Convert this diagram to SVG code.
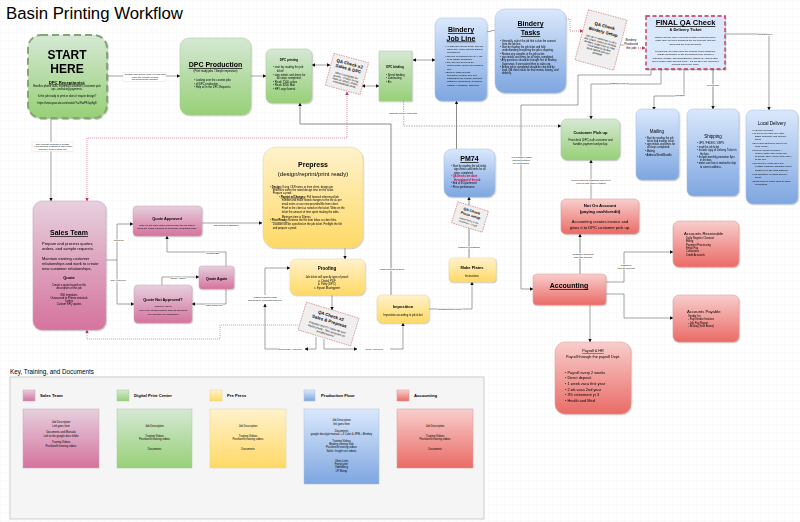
<svg xmlns="http://www.w3.org/2000/svg" width="800" height="522" viewBox="0 0 800 522">
<defs>
<pattern id="grid" width="8" height="8" patternUnits="userSpaceOnUse"><path d="M8 0H0V8" fill="none" stroke="#efefef" stroke-width="0.5"/></pattern>
<linearGradient id="gG" x1="0" y1="0" x2="0" y2="1"><stop offset="0" stop-color="#d5e8d4"/><stop offset="1" stop-color="#97d077"/></linearGradient>
<linearGradient id="gB" x1="0" y1="0" x2="0" y2="1"><stop offset="0" stop-color="#dae8fc"/><stop offset="1" stop-color="#7ea6e0"/></linearGradient>
<linearGradient id="gR" x1="0" y1="0" x2="0" y2="1"><stop offset="0" stop-color="#f8cecc"/><stop offset="1" stop-color="#ea6b66"/></linearGradient>
<linearGradient id="gY" x1="0" y1="0" x2="0" y2="1"><stop offset="0" stop-color="#fff2cc"/><stop offset="1" stop-color="#ffd966"/></linearGradient>
<linearGradient id="gP" x1="0" y1="0" x2="0" y2="1"><stop offset="0" stop-color="#e6d0de"/><stop offset="1" stop-color="#d5739d"/></linearGradient>
<filter id="sh" x="-10%" y="-10%" width="120%" height="120%"><feDropShadow dx="0.6" dy="0.8" stdDeviation="0.6" flood-color="#000" flood-opacity="0.3"/></filter>
<marker id="a" viewBox="0 0 10 10" refX="9" refY="5" markerWidth="3.6" markerHeight="3.6" markerUnits="userSpaceOnUse" orient="auto-start-reverse"><path d="M0 0L10 5L0 10z" fill="#111"/></marker>
<marker id="r" viewBox="0 0 10 10" refX="9" refY="5" markerWidth="3.6" markerHeight="3.6" markerUnits="userSpaceOnUse" orient="auto-start-reverse"><path d="M0 0L10 5L0 10z" fill="#c2304f"/></marker>
</defs>
<style>
text{font-family:"Liberation Sans",Arial,sans-serif;fill:#000}
.n{filter:url(#sh)}
.g{fill:url(#gG);stroke:#a9c99f;stroke-width:.5}
.b{fill:url(#gB);stroke:#a9bfdd;stroke-width:.5}
.r{fill:url(#gR);stroke:#d99;stroke-width:.5}
.y{fill:url(#gY);stroke:#e8d48f;stroke-width:.5}
.p{fill:url(#gP);stroke:#c9a3b6;stroke-width:.5}
.q{fill:#f0eeee;stroke:#b85450;stroke-width:.5;stroke-dasharray:1.5 1}
.c{text-anchor:middle}
.s{font-size:2.7px}
.t{font-weight:bold;text-decoration:underline;text-anchor:middle}
.h{font-weight:bold;text-anchor:middle}
.m{font-size:4.2px}
.l{fill:none;stroke:#666;stroke-width:.6;marker-end:url(#a)}
.w{fill:none;stroke:#8a8a8a;stroke-width:1;marker-end:url(#a)}
.d{fill:none;stroke:#777;stroke-width:.6;stroke-dasharray:1.5 1;marker-end:url(#a)}
.e{fill:none;stroke:#c2506a;stroke-width:.6;stroke-dasharray:1 1}
.lb{font-size:2.5px;text-anchor:middle;paint-order:stroke;stroke:#fff;stroke-width:1px}
.bx{fill:#fff;stroke:#ccc;stroke-width:.3}
.ks{font-size:4.2px;font-weight:bold}
</style>
<rect width="800" height="522" fill="#fff"/>
<rect width="800" height="522" fill="url(#grid)"/>
<text x="6" y="19" font-size="16.800">Basin Printing Workflow</text>

<g id="key">
<text x="10" y="374" font-size="6.300">Key, Training, and Documents</text>
<rect x="10" y="377" width="474" height="142" fill="#f5f5f5" stroke="#bbb" stroke-width=".7"/>
<rect x="23" y="390" width="12" height="11" class="p"/><text x="40" y="396.500" class="ks">Sales Team</text>
<rect x="117" y="390" width="12" height="11" class="g"/><text x="134" y="396.500" class="ks">Digital Print Center</text>
<rect x="210" y="390" width="12" height="11" class="y"/><text x="227" y="396.500" class="ks">Pre Press</text>
<rect x="304" y="390" width="11" height="11" class="b"/><text x="321" y="396.500" class="ks">Production Floor</text>
<rect x="397" y="390" width="12" height="11" class="r"/><text x="414" y="396.500" class="ks">Accounting</text>
<rect x="23" y="409" width="76" height="59" class="p"/>
<rect x="117" y="409" width="75" height="59" class="g"/>
<rect x="210" y="409" width="76" height="59" class="y"/>
<rect x="304" y="409" width="75" height="75" class="b"/>
<rect x="397" y="409" width="76" height="59" class="r"/>
<g class="s c">
<text x="61" y="423.300">Job Description</text><text x="61" y="426.700">Link goes here</text><text x="61" y="433.300">Documents and Manuals</text><text x="61" y="436.700">Link to the google docs folder</text><text x="61" y="443.300">Training Videos</text><text x="61" y="446.700">Postilion/lit training videos</text>
<text x="154.500" y="426.700">Job Description</text><text x="154.500" y="436.700">Training Videos</text><text x="154.500" y="440">Postilion/lit training videos</text><text x="154.500" y="450">Documents</text>
<text x="248" y="426.700">Job Description</text><text x="248" y="436.700">Training Videos</text><text x="248" y="440">Postilion/lit training videos</text><text x="248" y="450">Documents</text>
<text x="341.500" y="421.300">Job Description</text><text x="341.500" y="424.700">link goes here</text><text x="341.500" y="431.700">Documents</text><text x="341.500" y="435">google docs/ppt manual + 4 Color &amp; 4PM + Bindery</text><text x="341.500" y="441.700">Training Videos</text><text x="341.500" y="445">Bindery training Vids</text><text x="341.500" y="448.300">Postilion/lit training videos</text><text x="341.500" y="451.700">Sales: Insight cert videos</text><text x="341.500" y="461.700">Other Links</text><text x="341.500" y="465">Fiery/cutter</text><text x="341.500" y="468.300">VideoMerg</text><text x="341.500" y="471.700">LP Mongi</text>
<text x="435" y="426.700">Job Description</text><text x="435" y="436.700">Training Videos</text><text x="435" y="440">Postilion/lit training videos</text><text x="435" y="450">Documents</text>
</g>
</g>

<g id="connectors">
<path class="l" d="M107 76H180"/>
<path class="l" d="M251 76H266"/>
<path class="l" d="M312 65H330" marker-start="url(#a)"/>
<path class="l" d="M362 86H379" marker-start="url(#a)"/>
<path class="l" d="M413 60H435" marker-start="url(#a)"/>
<path fill="none" stroke="#777" stroke-width=".6" d="M487 31.500H491V30.500H495"/>
<path class="e" marker-end="url(#r)" d="M566 19H570V31H583"/>
<path fill="none" stroke="#777" stroke-width=".6" d="M618 45L627 45"/>
<path class="e" style="stroke-width:1" marker-end="url(#r)" d="M636 48H645"/>
<path class="l" d="M725 34H769V110"/>
<path class="w" d="M713 69V109"/>
<path class="l" d="M684 69V96H654V110"/>
<path class="l" d="M661 69V84H591V119"/>
<path class="l" d="M651 69V75H578V105H521V289H533"/>
<path class="d" d="M403.700 101V126H561"/>
<path class="e" marker-start="url(#r)" marker-end="url(#r)" d="M347 92V138H87V201"/>
<path class="l" d="M51 118V201"/>
<path class="l" d="M345 248V259"/>
<path class="l" d="M332 295V310"/>
<path class="l" d="M202 223H262"/>
<path class="l" d="M106 260H117V224H133"/>
<path class="l" d="M117 260V304H134"/>
<path class="l" d="M162 285V277H199"/>
<path class="l" d="M226 266V252H167V236"/>
<path class="l" d="M226 289V304H192"/>
<path class="e" marker-end="url(#r)" d="M300 325H220V339H87V330"/>
<path class="l" d="M316 337V349H305"/>
<path class="l" d="M280 349H265V304"/>
<path class="l" d="M265 295V268H290"/>
<path class="l" d="M324 339V349H357"/>
<path class="l" d="M390 349H403V323"/>
<path class="w" d="M391 295V124H300V103"/>
<path class="l" d="M429 309H472V282"/>
<path class="w" d="M469 258V197"/>
<path class="w" d="M456.500 149V101"/>
<path class="l" d="M591 199V160"/>
<path class="w" d="M580 274V234"/>
<path class="l" d="M606 282H624V252H673"/>
<path class="l" d="M606 294H624V318H673"/>
<path class="l" d="M590 305V342"/>
<rect x="123" y="72.500" width="43" height="9" class="bx"/>
<g class="lb" style="stroke:none">
<text x="145" y="75">Quotes and prices ready to print jobs</text><text x="145" y="77.500">from the counter pricing</text><text x="145" y="80">No hiring quote needed.</text>
</g>
<rect x="32" y="142" width="41" height="9.500" class="bx"/>
<g class="lb" style="stroke:none">
<text x="52.500" y="144.500">Job request prompts in design</text><text x="52.500" y="147.300">AI-83 working customers who order</text><text x="52.500" y="150">regularly from a sales rep</text>
</g>
<g class="lb">
<text x="619" y="84">Customer pick-up</text>
<text x="680" y="96">Mail/ship</text>
<text x="713" y="86">SHIPPING</text>
<text x="765" y="35">Local Delivery</text>
<text x="403" y="114">Post the purple print jobs</text>
<text x="521" y="158">ALL PURCHASES</text><text x="521" y="161">and job product</text><text x="521" y="164">for accounting</text>
<text x="226" y="226">Job details is attached</text>
<text x="118" y="241">Approved</text>
<text x="118" y="281">Not Approved</text>
<text x="178" y="279">Quote Again?</text>
<text x="212" y="254">APPROVED</text>
<text x="214" y="306">NOT approved</text>
<text x="392" y="270">send required to DPC</text>
<text x="450" y="310">Impositioned for PM74</text>
<text x="469" y="248">Plates to Pressman</text>
<text x="290" y="350">Proof NOT Approved</text>
<text x="374" y="350">Proof Approved</text>
<text x="265" y="297.500">Makes required edits</text><text x="265" y="300.500">and send to client and approve</text>
<text x="591" y="180.500">Invoice goes to customer pick up to</text><text x="591" y="183.500">pick-up and paid or logged</text>
<text x="583" y="255">Customer does not</text><text x="583" y="258">have an account</text>
<text x="626" y="266">Customer</text><text x="626" y="269">Has an account</text>
</g>
<text x="631" y="41" class="c" font-size="3.200" style="paint-order:stroke;stroke:#fff;stroke-width:1.500px">Bindery</text>
<text x="631" y="45" class="c" font-size="3.200" style="paint-order:stroke;stroke:#fff;stroke-width:1.500px">Produced</text>
<text x="631" y="49" class="c" font-size="3.200" style="paint-order:stroke;stroke:#fff;stroke-width:1.500px">the job</text>
</g>

<g id="start" class="n">
<rect x="28" y="35" width="79" height="83" rx="13" fill="url(#gG)" stroke="#82a86e" stroke-width="2" stroke-dasharray="7 4"/>
<text x="67" y="59" class="c" font-size="12" font-weight="bold">START</text>
<text x="67" y="73" class="c" font-size="12" font-weight="bold">HERE</text>
<text x="67" y="83.500" class="c" font-size="4.200" font-weight="bold" text-decoration="underline">DPC Receptionist:</text>
<text x="67" y="86.500" class="c s">Handles phone calls, incoming customers, customer pick</text>
<text x="67" y="90" class="c s">ups, and taking payments.</text>
<text x="67" y="97" class="c s">Is the job ready to print or does it require design?</text>
<text x="67" y="103.500" class="c s">https://www.youcute.com/watch?v=9haPFJupKg8</text>
</g>
<g id="dpc-production" class="n">
<rect x="180" y="38" width="71" height="77" rx="9" class="g"/>
<text x="215.500" y="67" class="t" font-size="7">DPC Production</text>
<text x="215.500" y="71.500" class="c s">(Print ready jobs / Simple imposition)</text>
<g class="s"><text x="194" y="81">•  Looking over the counter jobs</text><text x="194" y="84.500">•  all DPC production.</text><text x="194" y="88">•  Help w/ in the DPC Requests</text></g>
</g>
<g id="dpc-printing" class="n">
<rect x="266" y="49" width="46" height="54" rx="6" class="g"/>
<text x="289" y="61" class="c" font-size="3" font-weight="bold">DPC printing</text>
<g font-size="2.800"><text x="273" y="68">•  start by reading the job</text><text x="276.700" y="71.500">ticket!</text><text x="273" y="75.500">•  sign initials and times for</text><text x="276.700" y="79">all steps completed.</text><text x="273" y="82.500">•  Ricoh 7100 colors</text><text x="273" y="86">•  Ricoh 8200 Mail</text><text x="273" y="90">•  HP Large format</text></g>
</g>
<g id="qa-sales-dpc" transform="translate(347 74) rotate(15)">
<rect x="-18" y="-16.500" width="36" height="33" class="q"/>
<text y="-9" class="h" font-size="4.400">QA Check x2</text><text y="-4" class="h" font-size="4.400">Sales &amp; DPC</text>
<g class="s c"><text y="2.500">DPC's complete for</text><text y="5.500">quality - Check sizing</text><text y="8.500">stock or colors, check</text><text y="11.500">initial/date/job ticket</text></g>
</g>
<g id="dpc-binding" class="n">
<rect x="379" y="51" width="33" height="50" class="g"/>
<text x="395" y="68" class="c" font-size="2.900" font-weight="bold">DPC binding</text>
<g font-size="2.800"><text x="386" y="75.500">•  Spiral binding</text><text x="386" y="79">•  Laminating</text><text x="386" y="82.500">•  Etc</text></g>
</g>
<g id="bindery-job-line" class="n">
<rect x="435" y="18" width="52" height="83" rx="7" class="b"/>
<text x="461" y="32" class="t" font-size="7">Bindery</text><text x="461" y="40.500" class="t" font-size="7">Job Line</text>
<g font-size="2.500"><text x="445" y="47">• All jobs are moved to the Job line</text><text x="447" y="50">when they come into the bindery</text><text x="447" y="53">department.</text><text x="445" y="57">• Job line is organized by DAY OF</text><text x="447" y="60">THE WEEK deadlined.</text><text x="445" y="63">• The Job line gives us an</text><text x="447" y="66">approximate count out of what is</text><text x="447" y="69.500">due.</text><text x="445" y="72.500">• Bindery tasks include:</text><text x="447" y="76">Trimming, Folding, Die Cut,</text><text x="447" y="79">Padding/Perfs, Collate, Booklet,</text><text x="447" y="82">Stitching, Numbering, Spiraling,</text><text x="447" y="86">Cutting, Handwork, Shipping</text></g>
</g>
<g id="bindery-tasks" class="n">
<rect x="495" y="9" width="71" height="84" rx="10" class="b"/>
<text x="530.500" y="26" class="t" font-size="7">Bindery</text><text x="530.500" y="35" class="t" font-size="7">Tasks</text>
<g font-size="2.600"><text x="500" y="41.500">• Generally, select the job that is due the soonest</text><text x="502" y="44.800">from the job line.</text><text x="500" y="48">• Start by reading the job ticket and fully</text><text x="502" y="51.300">understanding everything the job is requiring.</text><text x="500" y="54.600">• Review any samples in the job jacket.</text><text x="500" y="57.900">• sign initials and times for all steps completed.</text><text x="500" y="61.200">• Any questions should be brought first to Bindery</text><text x="502" y="64.500">Supervisor, if unresolved then to sales rep.</text><text x="500" y="67.800">• Before job is completed should be checked by</text><text x="502" y="71.100">lead, QA check tasks for final review, boxing, and</text><text x="502" y="74.400">delivery.</text></g>
</g>
<g id="qa-bindery" transform="translate(601 40) rotate(15)">
<rect x="-20" y="-26" width="40" height="52" class="q"/>
<text y="-13" class="h" font-size="4.400">QA Check</text><text y="-7" class="h" font-size="4.400">Bindery Setup</text>
<g class="s c"><text y="0">Set-up in machines is very</text><text y="3">job, check match to sample,</text><text y="6">Bindery supervisor to note</text><text y="9">initial/date/to review</text><text y="12">done before job can</text><text y="15">proceed</text></g>
</g>
<g id="final-qa" class="n">
<rect x="646" y="16" width="79" height="53" fill="#dae8fc" stroke="#c2304f" stroke-width="1.300" stroke-dasharray="4 2.500"/>
<text x="685.500" y="25" class="t" font-size="7.500">FINAL QA Check</text>
<text x="685.500" y="31" class="h" font-size="4">&amp; Delivery Ticket</text>
<g font-size="2.500" class="c"><text x="685.500" y="38">Before boxing, have a second person review the job to</text><text x="685.500" y="41.300">make sure we have produced the job correctly and are</text><text x="685.500" y="45">delivering the correct project.</text><text x="685.500" y="52">For Boxing, we make sure the product looks awesome,</text><text x="685.500" y="55">update job tickets. In the boxed/taped box include a</text><text x="685.500" y="58.800">notepad, monthly specials/samples, signed QA check card,</text><text x="685.500" y="62">and a packer with account pack... It's like they are opening a</text><text x="685.500" y="65">present with every order.</text></g>
</g>
<g id="customer-pickup" class="n">
<rect x="561" y="119" width="59" height="41" rx="6" class="g"/>
<text x="590.500" y="134" class="h" font-size="4">Customer Pick up</text>
<text x="590.500" y="141" class="c s">Front desk (DPC) calls customer and</text><text x="590.500" y="144.500" class="c s">handles payment and pickup.</text>
</g>
<g id="mailing" class="n">
<rect x="636" y="109" width="43" height="71" rx="6" class="b"/>
<text x="657" y="133" class="c" font-size="4.500">Mailing</text>
<g font-size="2.600"><text x="645" y="139">• Start by reading the job</text><text x="647" y="142">ticket and mailing ticket.</text><text x="645" y="145">• sign initials and times for</text><text x="647" y="148">all steps completed.</text><text x="645" y="152">• Mailing</text><text x="645" y="156">• Address/Send/Bundle</text></g>
</g>
<g id="shipping" class="n">
<rect x="687" y="109" width="52" height="87" rx="6" class="b"/>
<text x="713" y="138" class="c" font-size="4.500">Shipping</text>
<g font-size="2.600"><text x="697" y="144">•  UPS / FEDEX / USPS</text><text x="697" y="147.500">•  read the job ticket</text><text x="697" y="151">•  Include copy of Delivery Ticket in</text><text x="700" y="154.500">the box.</text><text x="697" y="157.500">•  Include monthly promotion flyer</text><text x="700" y="161">in the box.</text><text x="697" y="164">•  make sure box is marked to ship</text><text x="700" y="167.500">to correct address.</text></g>
</g>
<g id="local-delivery" class="n">
<rect x="746" y="110" width="52" height="94" rx="7" class="b"/>
<text x="772" y="125" class="c" font-size="4.500">Local Delivery</text>
<g font-size="2.500"><text x="752" y="131">•  read the job ticket</text><text x="752" y="134">•  all boxes on route (fox label,</text><text x="755" y="137">Basin branding, and delivery</text><text x="755" y="140">ticket.</text><text x="752" y="144">•  Box label should be able to be</text><text x="755" y="147">read clearly.</text><text x="752" y="151">•  Delivery ticket is printed +</text><text x="755" y="154">copied, white and yellow can</text><text x="755" y="157">separate, tape yellow (pink copy)</text><text x="755" y="160">to the box.</text><text x="752" y="164">•  On delivery, make sure box</text><text x="755" y="167">contact customer signature ticket</text><text x="755" y="171">Right box to the right address</text><text x="752" y="174.500">•  get signature on white delivery</text><text x="755" y="178">ticket.</text><text x="752" y="181.500">•  Bring delivery ticket back to office</text><text x="755" y="185">accounting</text></g>
</g>
<g id="not-on-account" class="n">
<rect x="561" y="199" width="78" height="35" rx="5" class="r"/>
<text x="600" y="207" class="c" font-size="4.300" font-weight="bold">Not On Account</text>
<text x="600" y="212.500" class="c" font-size="4.300" font-weight="bold">(paying cash/credit)</text>
<text x="600" y="223" class="c" font-size="4.100">Accounting creates invoice and</text>
<text x="600" y="229" class="c" font-size="4.100">gives it to DPC customer pick up.</text>
</g>
<g id="accounting" class="n">
<rect x="533" y="274" width="73" height="31" rx="4" class="r"/>
<text x="569" y="288" class="t" font-size="7">Accounting</text>
</g>
<g id="accounts-receivable" class="n">
<rect x="673" y="221" width="66" height="46" rx="6" class="r"/>
<text x="684" y="235" class="m">Accounts Receivable</text>
<g class="s"><text x="686" y="239">Daily Register Closeout</text><text x="686" y="242.300">Billing</text><text x="686" y="245.600">Payment Processing</text><text x="686" y="249">Email Pay</text><text x="686" y="252.300">Collections</text><text x="686" y="255.600">Credit Accounts</text></g>
</g>
<g id="accounts-payable" class="n">
<rect x="673" y="295" width="66" height="47" rx="6" class="r"/>
<text x="687" y="313" class="m">Accounts Payable</text>
<g class="s"><text x="688" y="317">Vendor list</text><text x="688" y="320.300">- Pay/Vendor Invoices</text><text x="688" y="323.600">- Job Pay Report</text><text x="688" y="326.900">- Bi/Lbaj (Sold Boxes)</text></g>
</g>
<g id="payroll" class="n">
<rect x="555" y="342" width="76" height="72" rx="10" class="r"/>
<text x="593" y="352" class="c" font-size="3.800" text-decoration="underline">Payroll &amp; HR</text>
<text x="593" y="358" class="c" font-size="3.800">Payroll through the payroll Dept.</text>
<g font-size="3.900"><text x="565" y="373.500">•  Payroll every 2 weeks</text><text x="565" y="379">•  Direct deposit</text><text x="565" y="385">•  1 week vaca first year</text><text x="565" y="390.500">•  2 wk vaca 2nd year</text><text x="565" y="396">•  3% retirement yr 3</text><text x="565" y="402">•  Health and Med</text></g>
</g>
<g id="sales-team" class="n">
<rect x="33" y="201" width="73" height="129" rx="9" class="p"/>
<text x="69" y="235" class="t" font-size="7">Sales Team</text>
<g font-size="4"><text x="42" y="244.500">Prepare and process quotes,</text><text x="42" y="249.500">orders, and sample requests.</text><text x="42" y="259.500">Maintain existing customer</text><text x="42" y="264.500">relationships and work to create</text><text x="42" y="269.500">new customer relationships.</text></g>
<text x="69" y="279" class="h" font-size="4">Quote</text>
<g class="s c"><text x="69" y="286">Create a quote based on the</text><text x="69" y="289">description of the job</text><text x="69" y="296">800 templates</text><text x="69" y="299">Outsourced to Promo materials</text><text x="69" y="302">Letters</text><text x="69" y="305">Custom RFQ quotes</text></g>
</g>
<g id="quote-approved" class="n">
<rect x="133" y="206" width="69" height="30" rx="4" class="p"/>
<text x="167" y="219.500" class="h" font-size="3.800">Quote Approved</text>
<g font-size="2.500" class="c"><text x="167" y="226">Write up the work order and prepare the job jacket.</text>
<text x="167" y="229">Send the entire package to Prepress, production task.</text></g>
</g>
<g id="quote-not-approved" class="n">
<rect x="134" y="285" width="58" height="38" rx="4" class="p"/>
<text x="163" y="301" class="h" font-size="3.800">Quote Not Approved?</text>
<g font-size="2.500" class="c"><text x="163" y="307">Training Videos</text><text x="163" y="311">Why is my quotes quoted and not approved</text><text x="163" y="314.500">you can ask your lead/sales</text></g>
</g>
<g id="quote-again" class="n">
<rect x="199" y="266" width="35" height="23" rx="3" class="p"/>
<text x="216.500" y="279.500" class="h" font-size="3.600">Quote Again</text>
</g>
<g id="prepress" class="n">
<rect x="263" y="147" width="100" height="101" rx="13" class="y"/>
<text x="313" y="167" class="c" font-size="7" font-weight="bold">Prepress</text>
<text x="313" y="176" class="c" font-size="6">(design/reprint/print ready)</text>
<g font-size="2.700"><text x="270" y="187.500">•  <tspan font-weight="bold" text-decoration="underline">Design:</tspan> Using CSR notes or from client, design per</text><text x="272.700" y="190.700">directives within the noted design time on the ticket.</text><text x="272.700" y="194">Prepare a proof.</text>
<text x="279" y="197.700">•  <tspan font-weight="bold" text-decoration="underline">Reprint w/Changes:</tspan> Pull forward referenced job</text><text x="281.700" y="201">number and make noted changes to the file as per</text><text x="281.700" y="205">email notes or use new  provided file from client.</text><text x="281.700" y="209">Proof to the client as noted on the ticket. Write on the</text><text x="281.700" y="213">ticket the amount of time spent making the edits.</text><text x="281.700" y="217.700">Minimum time is 30mins.</text>
<text x="270" y="221">•  <tspan font-weight="bold" text-decoration="underline">Print Ready:</tspan> Retrieve the file from Inbox or client files.</text><text x="272.700" y="225">Location will be specified on the job ticket. Preflight the file</text><text x="272.700" y="229">and prepare a proof.</text></g>
</g>
<g id="proofing" class="n">
<rect x="290" y="259" width="75" height="36" rx="6" class="y"/>
<text x="327" y="270" class="h" font-size="4.500">Proofing</text>
<g font-size="2.800" class="c"><text x="327" y="278">Job ticket will specify type of proof:</text><text x="327" y="281.500">a. Digital PDF</text><text x="327" y="285">b. Fiery (DPC)</text><text x="327" y="289">c. Epson Mastrgprint</text></g>
</g>
<g id="qa-sales-prepress" transform="translate(328.500 324) rotate(17)">
<rect x="-27.500" y="-14.500" width="55" height="29" class="q"/>
<text y="-7" class="h" font-size="4.400">QA Check x2</text><text y="-1.500" class="h" font-size="4.400">Sales &amp; Prepress</text>
<g class="s c"><text y="4.500">Prepress and CS Sales rep look</text><text y="7.800">digital proofs - Text reviewers on</text><text y="11">proofed books?</text></g>
</g>
<g id="imposition" class="n">
<rect x="377" y="295" width="52" height="28" rx="5" class="y"/>
<text x="403" y="308" class="h" font-size="4">Imposition</text>
<text x="403" y="316" class="c" font-size="2.700">Imposition according to job ticket</text>
</g>
<g id="make-plates" class="n">
<rect x="449" y="258" width="47" height="24" rx="4" class="y"/>
<text x="472" y="269" class="h" font-size="4">Make Plates</text>
<text x="472" y="277" class="c s">Instructions</text>
</g>
<g id="pm74" class="n">
<rect x="444" y="149" width="51" height="48" rx="8" class="b"/>
<text x="469.500" y="161" class="t" font-size="7">PM74</text>
<g font-size="2.600"><text x="451" y="167">•  Start by reading the job ticket</text><text x="454" y="170.300">sign initials and times for all</text><text x="454" y="173.600">steps completed.</text><text x="451" y="177" style="fill:#d1003c" font-weight="bold">•  QA checks are done</text><text x="454" y="180.500" style="fill:#d1003c" font-weight="bold">throughout of the job</text><text x="451" y="184">•  End of DC/partments</text><text x="451" y="188">•  Press performance</text></g>
</g>
<g id="qa-press" transform="translate(470 217) rotate(17)">
<rect x="-16" y="-11" width="32" height="22" class="q"/>
<text y="-5" class="h" font-size="3.600">QA Check</text><text y="-.500" class="h" font-size="3.600">Press setup</text>
<text y="4.500" class="c" font-size="2.400">Adjustments in the</text><text y="7.500" class="c" font-size="2.400">machines - Check</text>
</g>
</svg>
